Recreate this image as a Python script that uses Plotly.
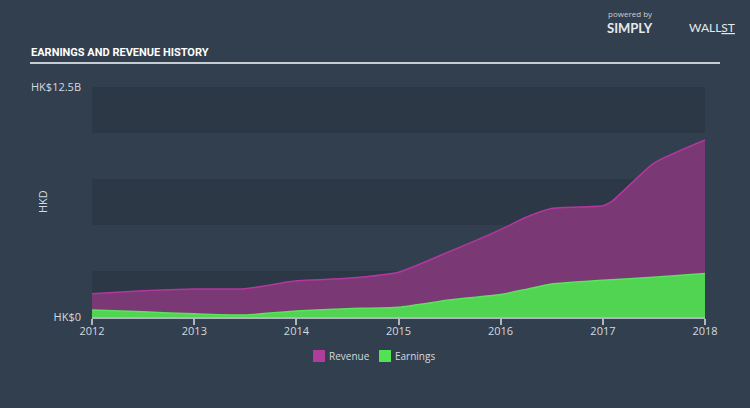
import plotly.graph_objects as go

dates = ["2012-01-01", "2012-07-01", "2013-01-01", "2013-07-01", "2014-01-01",
         "2014-07-01", "2015-01-01", "2015-07-01", "2016-01-01", "2016-04-01",
         "2016-07-01", "2017-01-01", "2017-02-01", "2017-07-01", "2018-01-01"]
revenue = [1.27, 1.43, 1.52, 1.54, 1.97, 2.10, 2.43, 3.55, 4.75, 5.42,
           5.90, 6.05, 6.27, 8.35, 9.62]
earnings = [0.38, 0.28, 0.17, 0.11, 0.33, 0.45, 0.53, 0.92, 1.22, 1.50,
            1.79, 2.00, 2.03, 2.16, 2.37]
revenue = [v * 1e9 for v in revenue]
earnings = [v * 1e9 for v in earnings]
year_ticks = ["2012-01-01", "2013-01-01", "2014-01-01", "2015-01-01",
              "2016-01-01", "2017-01-01", "2018-01-01"]
year_labels = ["2012", "2013", "2014", "2015", "2016", "2017", "2018"]
y_ticks = [0, 12.5e9]
y_labels = ["HK$0", "HK$12.5B"]
series_names = ["Revenue", "Earnings"]
swatch_colors = ["#b03d9c", "#53e254"]

BG = "#323f4e"
BAND = "#2c3846"
TXT = "#d5d9de"

L, R, T, B = 92, 705, 87, 317
PW, PH = R - L, B - T


def px(x):
    return (x - L) / PW


def py(y):
    return (B - y) / PH


fig = go.Figure()
fig.add_trace(go.Scatter(x=dates, y=revenue, name=series_names[0], mode="lines",
                         fill="tozeroy", fillcolor="#7a3974", showlegend=False,
                         line=dict(color="#b3379f", width=1.5, shape="spline", smoothing=0.5)))
fig.add_trace(go.Scatter(x=dates, y=earnings, name=series_names[1], mode="lines",
                         fill="tozeroy", fillcolor="#50d452", showlegend=False,
                         line=dict(color="#5ce35d", width=1.5, shape="spline", smoothing=0.5)))

for lo, hi in [(0, 2.5e9), (5e9, 7.5e9), (10e9, 12.5e9)]:
    fig.add_shape(type="rect", xref="paper", yref="y", x0=0, x1=1, y0=lo, y1=hi,
                  fillcolor=BAND, line=dict(width=0), layer="below")

fig.add_shape(type="line", xref="paper", yref="paper", x0=px(30), x1=px(720),
              y0=py(63), y1=py(63), line=dict(color="#c5ccd3", width=2))

annotations = [
    dict(text="HKD", xref="paper", yref="paper", x=px(42), y=py(202),
         xanchor="center", yanchor="middle", textangle=-90, showarrow=False,
         font=dict(size=11, color=TXT)),
    dict(text="EARNINGS AND REVENUE HISTORY",
         xref="paper", yref="paper",
         x=px(29), y=py(52), xanchor="left", yanchor="middle", showarrow=False,
         font=dict(family="Roboto", size=11, weight=700, color="#ffffff")),
    dict(text="powered by", xref="paper", yref="paper", x=px(606), y=py(13),
         xanchor="left", yanchor="middle", showarrow=False,
         font=dict(size=8, color="#c9ced4")),
    dict(text="<b>SIMPLY</b>", xref="paper", yref="paper", x=px(605), y=py(28),
         xanchor="left", yanchor="middle", showarrow=False,
         font=dict(family="Lato", size=13, color="#e6e9ec")),
    dict(text="WALL<u>ST</u>", xref="paper", yref="paper", x=px(687), y=py(28),
         xanchor="left", yanchor="middle", showarrow=False,
         font=dict(family="Lato", size=12, color="#e6e9ec")),
]

# manual legend: square swatch + label
legend_x = [313, 379]
for name, col, lx in zip(series_names, swatch_colors, legend_x):
    fig.add_shape(type="rect", xref="paper", yref="paper", x0=px(lx), x1=px(lx + 12),
                  y0=py(362), y1=py(350), fillcolor=col, line=dict(width=0))
    annotations.append(dict(text=name, xref="paper", yref="paper", x=px(lx + 14), y=py(356),
                            xanchor="left", yanchor="middle", showarrow=False,
                            font=dict(size=10, color=TXT)))

fig.update_layout(
    width=750, height=408,
    margin=dict(l=L, r=750 - R, t=T, b=408 - B),
    paper_bgcolor=BG, plot_bgcolor=BG,
    font=dict(family="Open Sans", color=TXT, size=11),
    showlegend=False,
    xaxis=dict(type="date", range=["2012-01-01", "2018-01-01"], tickvals=year_ticks,
               ticktext=year_labels, showgrid=False, zeroline=False,
               showline=True, linecolor="#aeb6bf", linewidth=1.5,
               ticks="outside", ticklen=6, tickcolor="#aeb6bf", tickwidth=1.5,
               ticklabelstandoff=-3,
               tickfont=dict(size=11, color=TXT)),
    yaxis=dict(range=[0, 12.5e9], tickvals=y_ticks, ticktext=y_labels,
               showgrid=False, zeroline=False, showline=False,
               tickfont=dict(size=11, color=TXT), ticklen=0, ticklabelstandoff=10),
    annotations=annotations,
)

fig.write_html("out.html")
